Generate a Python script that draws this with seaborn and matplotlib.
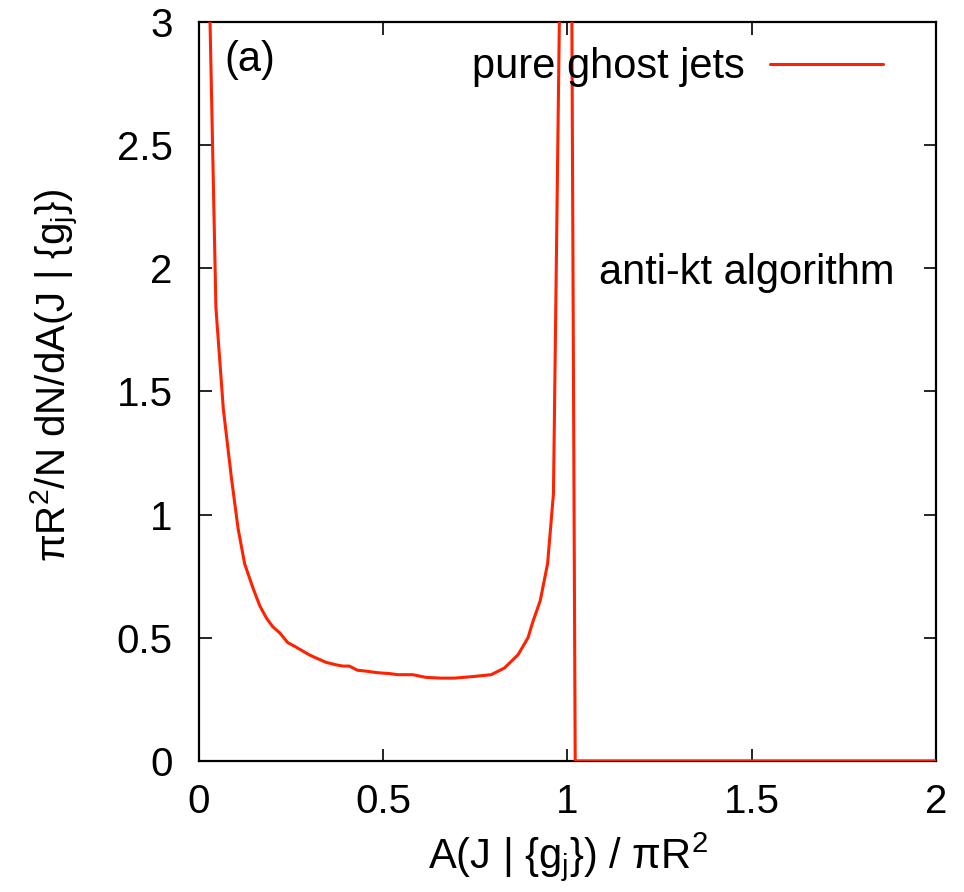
import numpy as np
import pandas as pd
import matplotlib as mpl
mpl.use("Agg")
import matplotlib.pyplot as plt
import seaborn as sns

# area histogram of pure ghost jets, anti-kt
area = [0.006, 0.026, 0.046, 0.066, 0.088, 0.106, 0.124, 0.147, 0.165, 0.183,
        0.200, 0.219, 0.241, 0.260, 0.277, 0.300, 0.322, 0.345, 0.372, 0.390,
        0.408, 0.430, 0.450, 0.485, 0.520, 0.539, 0.580, 0.616, 0.657, 0.693,
        0.748, 0.793, 0.829, 0.866, 0.893, 0.905, 0.926, 0.946, 0.962, 1.003,
        1.021, 2.000]
dens = [8.0, 3.29, 1.84, 1.43, 1.15, 0.945, 0.80, 0.70, 0.63, 0.58,
        0.545, 0.52, 0.48, 0.465, 0.45, 0.43, 0.415, 0.40, 0.39, 0.385,
        0.385, 0.368, 0.365, 0.358, 0.354, 0.35, 0.35, 0.339, 0.336, 0.336,
        0.343, 0.35, 0.377, 0.431, 0.50, 0.56, 0.65, 0.80, 1.085, 6.0,
        0.0, 0.0]
xticks = [0, 0.5, 1, 1.5, 2]
yticks = [0, 0.5, 1, 1.5, 2, 2.5, 3]
xticklabels = ["0", "0.5", "1", "1.5", "2"]
yticklabels = ["0", "0.5", "1", "1.5", "2", "2.5", "3"]

sns.set_theme(style="ticks")
plt.rcParams["font.family"] = ["Liberation Sans", "DejaVu Sans"]
plt.rcParams["mathtext.fontset"] = "custom"
plt.rcParams["mathtext.rm"] = "Liberation Sans"
plt.rcParams["mathtext.it"] = "Liberation Sans"
plt.rcParams["mathtext.default"] = "rm"
plt.rcParams["text.color"] = "black"
plt.rcParams["axes.labelcolor"] = "black"

df = pd.DataFrame({"A": area, "dNdA": dens})
red = "#ff2200"

fig = plt.figure(figsize=(9.64, 8.92), dpi=100)
ax = fig.add_axes([0.2064, 0.147, 0.7645, 0.8283])
sns.lineplot(data=df, x="A", y="dNdA", sort=False, color=red, lw=2.2,
             label="pure ghost jets", ax=ax, zorder=3)

ax.set_xlim(0, 2)
ax.set_ylim(0, 3)
ax.set_xticks(xticks)
ax.set_xticklabels(xticklabels)
ax.set_yticks(yticks)
ax.set_yticklabels(yticklabels)
ax.tick_params(direction="in", length=9, width=1.2, top=True, right=True,
               labelsize=29, colors="black")
ax.tick_params(axis="x", pad=16)
ax.tick_params(axis="y", pad=19)
for s in ax.spines.values():
    s.set_linewidth(1.6)
    s.set_color("black")

ax.set_xlabel(r"A(J | {g$_\mathrm{j}$}) / $\pi$R$^2$", fontsize=30)
ax.set_ylabel(r"$\pi$R$^2$/N dN/dA(J | {g$_\mathrm{j}$})", fontsize=29)
ax.xaxis.set_label_coords(0.5007, -0.094)
ax.yaxis.set_label_coords(-0.16, 0.522)

ax.text(0.035, 0.9486, "(a)", transform=ax.transAxes, fontsize=30,
        ha="left", va="center")
ax.text(0.944, 0.660, "anti-kt algorithm", transform=ax.transAxes,
        fontsize=30, ha="right", va="center")

leg = ax.legend(loc="center right", fontsize=30, frameon=False,
                markerfirst=False, handlelength=2.7, handletextpad=0.62,
                bbox_to_anchor=(0.928, 0.939), borderaxespad=0, borderpad=0)

fig.savefig("out.png", dpi=100)
